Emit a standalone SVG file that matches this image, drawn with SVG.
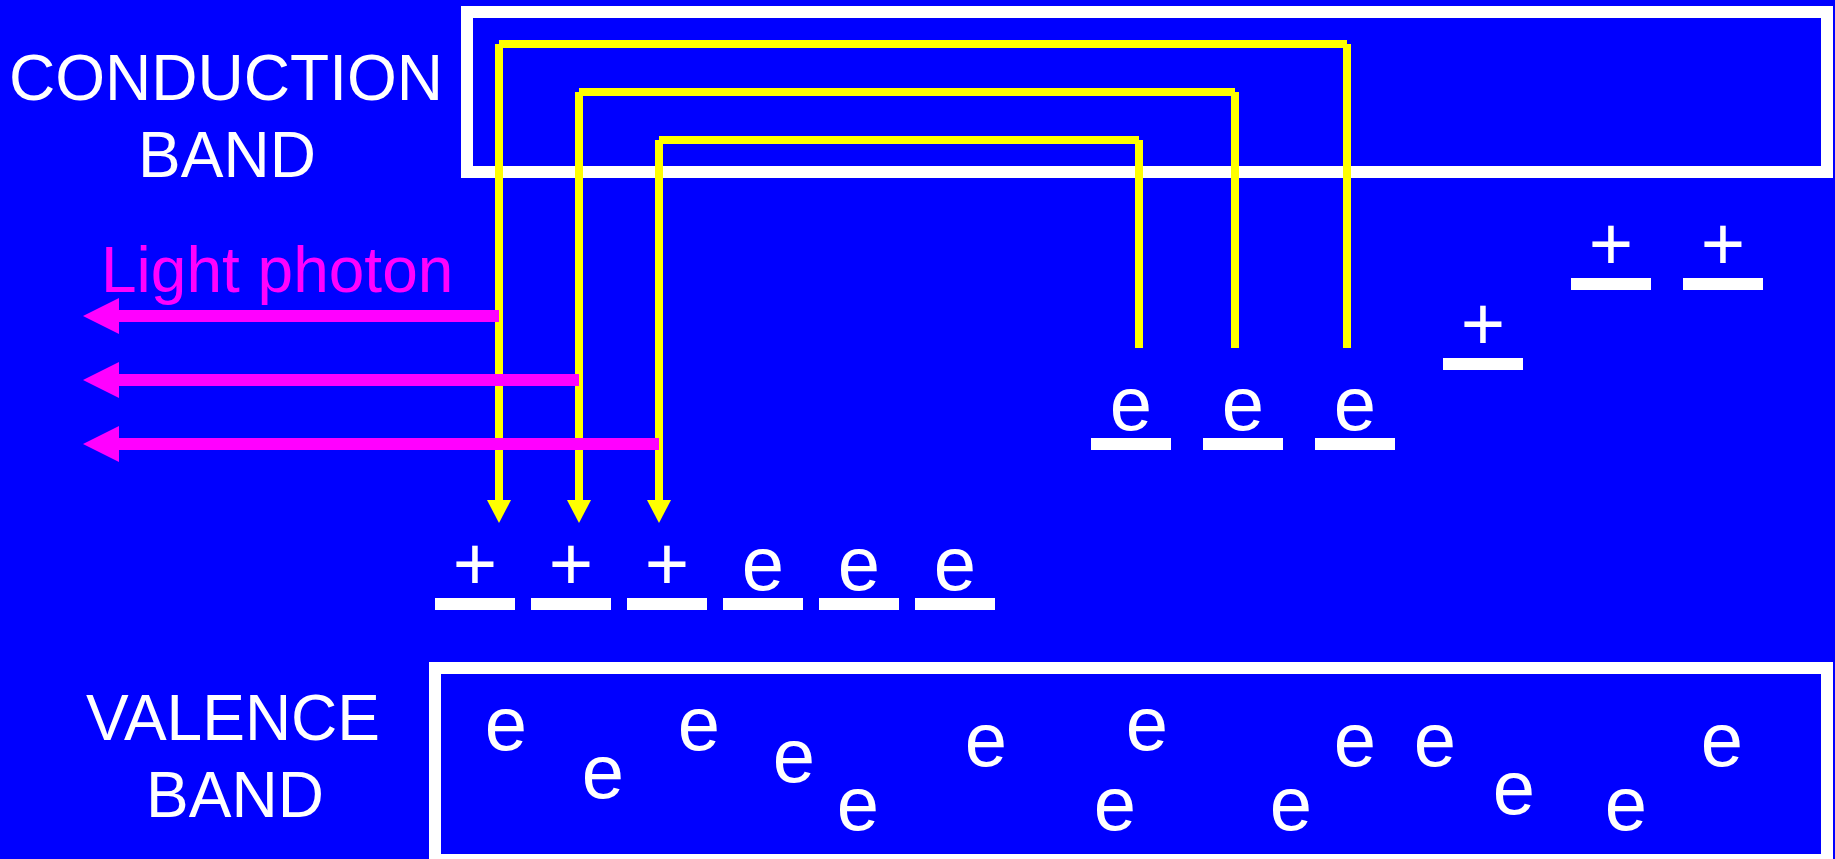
<svg xmlns="http://www.w3.org/2000/svg" width="1835" height="859" viewBox="0 0 1835 859">
  <style>
    .band { fill: none; stroke: #FFFFFF; stroke-width: 12; }
    .label { font-family: "Liberation Sans", Arial, sans-serif; font-size: 64px; fill: #FFFFFF; text-anchor: middle; }
    .photon-label { font-family: "Liberation Sans", Arial, sans-serif; font-size: 64px; fill: #FF00FF; }
    .q { font-family: "Liberation Sans", Arial, sans-serif; font-size: 76px; fill: #FFFFFF; text-anchor: middle; }
    .lvl { fill: #FFFFFF; }
    .jump { fill: none; stroke: #FFFF00; stroke-width: 8; stroke-linecap: butt; }
    .tip { fill: #FFFF00; }
    .ray { fill: none; stroke: #FF00FF; stroke-width: 12; stroke-linecap: butt; }
    .ray-head { fill: #FF00FF; }
  </style>

  <!-- backdrop -->
  <rect x="0" y="0" width="1835" height="859" fill="#0000FF"/>

  <!-- conduction band -->
  <g id="conduction-band">
    <rect class="band" x="467" y="12" width="1360" height="160"/>
    <text class="label" x="226" y="100" textLength="434" lengthAdjust="spacingAndGlyphs">CONDUCTION</text>
    <text class="label" x="227" y="177">BAND</text>
  </g>

  <!-- valence band -->
  <g id="valence-band">
    <rect class="band" x="435" y="668" width="1392" height="192"/>
    <text class="label" x="233" y="740">VALENCE</text>
    <text class="label" x="235" y="817">BAND</text>
    <g id="valence-electrons">
      <text class="q" x="506" y="750">e</text>
      <text class="q" x="603" y="798">e</text>
      <text class="q" x="699" y="750">e</text>
      <text class="q" x="794" y="782">e</text>
      <text class="q" x="858" y="830">e</text>
      <text class="q" x="986" y="766">e</text>
      <text class="q" x="1147" y="750">e</text>
      <text class="q" x="1115" y="830">e</text>
      <text class="q" x="1291" y="830">e</text>
      <text class="q" x="1355" y="766">e</text>
      <text class="q" x="1435" y="766">e</text>
      <text class="q" x="1514" y="814">e</text>
      <text class="q" x="1626" y="830">e</text>
      <text class="q" x="1722" y="766">e</text>
    </g>
  </g>

  <!-- lower levels: holes and electrons -->
  <g id="lower-hole-1"><text class="q" x="475" y="590">+</text><rect class="lvl" x="435" y="598" width="80" height="12"/></g>
  <g id="lower-hole-2"><text class="q" x="571" y="590">+</text><rect class="lvl" x="531" y="598" width="80" height="12"/></g>
  <g id="lower-hole-3"><text class="q" x="667" y="590">+</text><rect class="lvl" x="627" y="598" width="80" height="12"/></g>
  <g id="lower-electron-1"><text class="q" x="763" y="590">e</text><rect class="lvl" x="723" y="598" width="80" height="12"/></g>
  <g id="lower-electron-2"><text class="q" x="859" y="590">e</text><rect class="lvl" x="819" y="598" width="80" height="12"/></g>
  <g id="lower-electron-3"><text class="q" x="955" y="590">e</text><rect class="lvl" x="915" y="598" width="80" height="12"/></g>

  <!-- upper levels: electrons and holes -->
  <g id="upper-electron-1"><text class="q" x="1131" y="430">e</text><rect class="lvl" x="1091" y="438" width="80" height="12"/></g>
  <g id="upper-electron-2"><text class="q" x="1243" y="430">e</text><rect class="lvl" x="1203" y="438" width="80" height="12"/></g>
  <g id="upper-electron-3"><text class="q" x="1355" y="430">e</text><rect class="lvl" x="1315" y="438" width="80" height="12"/></g>
  <g id="upper-hole-1"><text class="q" x="1483" y="350">+</text><rect class="lvl" x="1443" y="358" width="80" height="12"/></g>
  <g id="upper-hole-2"><text class="q" x="1611" y="270">+</text><rect class="lvl" x="1571" y="278" width="80" height="12"/></g>
  <g id="upper-hole-3"><text class="q" x="1723" y="270">+</text><rect class="lvl" x="1683" y="278" width="80" height="12"/></g>

  <!-- photon label -->
  <g id="photon-label">
    <text class="photon-label" x="101" y="292">Light photon</text>
  </g>

  <!-- connectors: electron transitions and emitted photons -->
  <g id="connectors">
    <g id="transitions">
      <line class="jump" x1="1347" y1="348" x2="1347" y2="44"/>
      <line class="jump" x1="1347" y1="44" x2="499" y2="44"/>
      <line class="jump" x1="499" y1="44" x2="499" y2="501"/>
      <polygon class="tip" points="487,500 511,500 499,523"/>

      <line class="jump" x1="1235" y1="348" x2="1235" y2="92"/>
      <line class="jump" x1="1235" y1="92" x2="579" y2="92"/>
      <line class="jump" x1="579" y1="92" x2="579" y2="501"/>
      <polygon class="tip" points="567,500 591,500 579,523"/>

      <line class="jump" x1="1139" y1="348" x2="1139" y2="140"/>
      <line class="jump" x1="1139" y1="140" x2="659" y2="140"/>
      <line class="jump" x1="659" y1="140" x2="659" y2="501"/>
      <polygon class="tip" points="647,500 671,500 659,523"/>
    </g>
    <g id="photons">
      <line class="ray" x1="499" y1="316" x2="118" y2="316"/>
      <polygon class="ray-head" points="83,316 119,298 119,334"/>
      <line class="ray" x1="579" y1="380" x2="118" y2="380"/>
      <polygon class="ray-head" points="83,380 119,362 119,398"/>
      <line class="ray" x1="659" y1="444" x2="118" y2="444"/>
      <polygon class="ray-head" points="83,444 119,426 119,462"/>
    </g>
  </g>
</svg>
